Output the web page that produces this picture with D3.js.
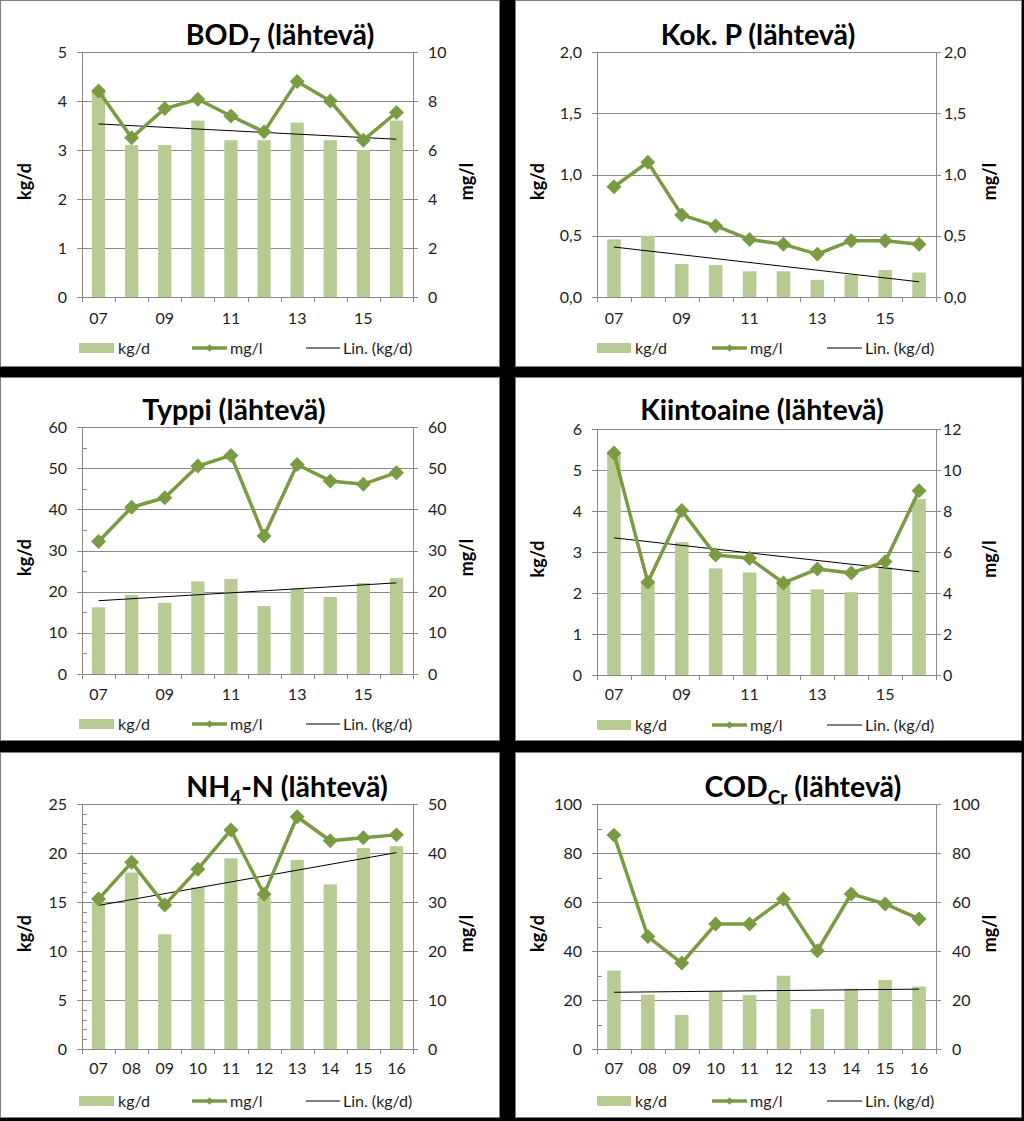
<!DOCTYPE html>
<html><head><meta charset="utf-8">
<script src="https://cdn.jsdelivr.net/npm/d3@7"></script>
<style>
html,body{margin:0;padding:0;background:#000;}
svg{display:block;font-family:Lato,"Carlito",sans-serif;}
</style></head><body>
<svg id="c" width="1024" height="1121"></svg>
<script>
// ---------- data ----------
const years = ["07","08","09","10","11","12","13","14","15","16"];

const bodKg = [4.2,3.1,3.1,3.6,3.2,3.2,3.56,3.2,3.0,3.6];
const bodMg = [8.41,6.5,7.69,8.07,7.39,6.74,8.8,8.0,6.4,7.53];

const pKg = [0.47,0.5,0.27,0.26,0.21,0.21,0.14,0.18,0.22,0.2];
const pMg = [0.9,1.1,0.67,0.58,0.47,0.43,0.35,0.46,0.46,0.43];

const nKg = [16.2,19.2,17.3,22.5,23.1,16.5,20.8,18.7,22.1,23.3];
const nMg = [32.2,40.5,42.8,50.5,53.1,33.5,50.9,46.9,46.1,48.9];

const ssKg = [5.4,2.25,3.24,2.6,2.5,2.3,2.09,2.02,2.63,4.29];
const ssMg = [10.83,4.52,8.02,5.85,5.69,4.49,5.17,4.98,5.53,8.99];

const nh4Kg = [15,18,11.7,16.5,19.46,15.5,19.3,16.8,20.5,20.7];
const nh4Mg = [30.6,38.1,29.4,36.7,44.7,31.6,47.4,42.5,43.1,43.7];

const codKg = [32,22.2,13.9,23.4,22,29.9,16.3,24.6,28.2,25.5];
const codMg = [87.3,45.9,35.1,51,51,61.2,40.1,63.3,59.2,53.1];

// tick values
const bodLeftTicks = [0,1,2,3,4,5];
const bodRightTicks = [0,2,4,6,8,10];
const pTicks = [0,0.5,1.0,1.5,2.0];
const nTicks = [0,10,20,30,40,50,60];
const ssLeftTicks = [0,1,2,3,4,5,6];
const ssRightTicks = [0,2,4,6,8,10,12];
const nh4LeftTicks = [0,5,10,15,20,25];
const nh4RightTicks = [0,10,20,30,40,50];
const codTicks = [0,20,40,60,80,100];

const legendLabels = ["kg/d","mg/l","Lin. (kg/d)"];
const leftAxisTitle = "kg/d";
const rightAxisTitle = "mg/l";

// ---------- style ----------
const BAR = "#B7CB93";
const LINE = "#7A9B42";
const GRID = "#8A8A8A";
const TXT = "#1e1e1e";
const TICKFS = 16;

const svg = d3.select("#c");

const comma = d => d3.format(".1f")(d).replace(".", ",");
const plain = d => String(d);

const panels = [
  {box:[0,0,500,367], l:82, r:413, t:52, b:297, title:[["BOD",0],["7",1],[" (lähtevä)",0]], tx:280, ty:45,
   kg:bodKg, mg:bodMg, lt:bodLeftTicks, rt:bodRightTicks, fmt:plain, all:false, minor:null, rPad:10, xly:324, legY:343, col:0},
  {box:[515,0,507,367], l:597, r:936, t:52, b:297, title:[["Kok. P (lähtevä)",0]], tx:758, ty:45,
   kg:pKg, mg:pMg, lt:pTicks, rt:pTicks, fmt:comma, all:false, minor:null, rPad:3, xly:324, legY:343, col:1},
  {box:[0,377,500,364], l:82, r:413, t:427, b:674, title:[["Typpi (lähtevä)",0]], tx:234, ty:420,
   kg:nKg, mg:nMg, lt:nTicks, rt:nTicks, fmt:plain, all:false, minor:5, rPad:10, xly:700, legY:719, col:0},
  {box:[515,377,507,364], l:597, r:936, t:429, b:675, title:[["Kiintoaine (lähtevä)",0]], tx:762, ty:420,
   kg:ssKg, mg:ssMg, lt:ssLeftTicks, rt:ssRightTicks, fmt:plain, all:false, minor:null, rPad:2, xly:700, legY:720, col:1},
  {box:[0,752,500,366], l:82, r:413, t:804, b:1049, title:[["NH",0],["4",1],["-N (lähtevä)",0]], tx:287, ty:797,
   kg:nh4Kg, mg:nh4Mg, lt:nh4LeftTicks, rt:nh4RightTicks, fmt:plain, all:true, minor:1, rPad:10, xly:1074, legY:1096, col:0},
  {box:[515,752,507,366], l:597, r:936, t:804, b:1049, title:[["COD",0],["Cr",1],[" (lähtevä)",0]], tx:803, ty:797,
   kg:codKg, mg:codMg, lt:codTicks, rt:codTicks, fmt:plain, all:true, minor:10, rPad:11, xly:1074, legY:1096, col:1}
];

const legX = [[79,118,192,230,306,343],[597,635,712,750,827,865]];
const axTitleX = [[25,467],[538,990]];

function regression(vals){
  const n = vals.length;
  const mx = (n-1)/2, my = d3.mean(vals);
  let sxy = 0, sxx = 0;
  vals.forEach((v,i)=>{ sxy += (i-mx)*(v-my); sxx += (i-mx)*(i-mx); });
  const s = sxy/sxx;
  return i => my + s*(i-mx);
}

panels.forEach(p => {
  const g = svg.append("g");
  g.append("rect").attr("x",p.box[0]+0.5).attr("y",p.box[1]+0.5)
    .attr("width",p.box[2]-1).attr("height",p.box[3]-1)
    .attr("fill","#fff").attr("stroke","#7f7f7f").attr("stroke-width",1);

  const x = d3.scaleBand().domain(years).range([p.l,p.r]).paddingInner(0.6).paddingOuter(0.3);
  const xb = d3.scaleLinear().domain([0,years.length]).range([p.l,p.r]);
  const yL = d3.scaleLinear().domain([0,d3.max(p.lt)]).range([p.b,p.t]);
  const yR = d3.scaleLinear().domain([0,d3.max(p.rt)]).range([p.b,p.t]);
  const cx = d => x(d) + x.bandwidth()/2;

  // gridlines
  g.append("g").attr("transform",`translate(${p.l},0)`)
    .call(d3.axisLeft(yL).tickValues(p.lt).tickSize(-(p.r-p.l)).tickFormat(""))
    .call(a=>a.select(".domain").remove())
    .call(a=>a.selectAll("line").attr("stroke",GRID).attr("shape-rendering","crispEdges"));

  // minor ticks (inside, left)
  if (p.minor){
    const mt = d3.range(0, d3.max(p.lt)+1e-9, p.minor).filter(v => !p.lt.some(t=>Math.abs(t-v)<1e-9));
    g.append("g").attr("transform",`translate(${p.l},0)`)
      .call(d3.axisRight(yL).tickValues(mt).tickSize(5).tickFormat(""))
      .call(a=>a.select(".domain").remove())
      .call(a=>a.selectAll("line").attr("stroke",GRID).attr("shape-rendering","crispEdges"));
  }

  // bars
  g.append("g").selectAll("rect").data(years).join("rect")
    .attr("x",d=>x(d)).attr("width",x.bandwidth())
    .attr("y",(d,i)=>yL(p.kg[i])).attr("height",(d,i)=>p.b - yL(p.kg[i]))
    .attr("fill",BAR);

  // left axis
  g.append("g").attr("transform",`translate(${p.l},0)`)
    .call(d3.axisLeft(yL).tickValues(p.lt).tickSize(5).tickSizeOuter(0).tickPadding(10).tickFormat(p.fmt))
    .call(a=>a.selectAll("line,path").attr("stroke",GRID).attr("shape-rendering","crispEdges"))
    .call(a=>a.selectAll("text").attr("font-size",TICKFS).attr("fill",TXT).attr("font-family","Lato"));

  // right axis
  g.append("g").attr("transform",`translate(${p.r},0)`)
    .call(d3.axisRight(yR).tickValues(p.rt).tickSize(5).tickSizeOuter(0).tickPadding(p.rPad).tickFormat(p.fmt))
    .call(a=>a.selectAll("line,path").attr("stroke",GRID).attr("shape-rendering","crispEdges"))
    .call(a=>a.selectAll("text").attr("font-size",TICKFS).attr("fill",TXT).attr("font-family","Lato"));

  // x axis: boundary ticks
  g.append("g").attr("transform",`translate(0,${p.b})`)
    .call(d3.axisBottom(xb).tickValues(d3.range(years.length+1)).tickSize(5).tickSizeOuter(0).tickFormat(""))
    .call(a=>a.selectAll("line,path").attr("stroke",GRID).attr("shape-rendering","crispEdges"));
  // x labels
  g.append("g").selectAll("text").data(years.filter((d,i)=>p.all || i%2===0)).join("text")
    .attr("x",cx).attr("y",p.xly).attr("text-anchor","middle")
    .attr("font-size",TICKFS).attr("fill",TXT).text(d=>d);

  // trend line
  const f = regression(p.kg);
  g.append("line")
    .attr("x1",cx(years[0])).attr("y1",yL(f(0)))
    .attr("x2",cx(years[years.length-1])).attr("y2",yL(f(years.length-1)))
    .attr("stroke","#000").attr("stroke-width",1);

  // mg/l line + markers
  const line = d3.line().x((d,i)=>cx(years[i])).y(d=>yR(d));
  g.append("path").attr("d",line(p.mg)).attr("fill","none")
    .attr("stroke",LINE).attr("stroke-width",3.5).attr("stroke-linejoin","round");
  const sym = d3.symbol(d3.symbolSquare, 112)();
  g.append("g").selectAll("path").data(p.mg).join("path")
    .attr("d",sym).attr("fill",LINE)
    .attr("transform",(d,i)=>`translate(${cx(years[i])},${yR(d)}) rotate(45)`);

  // title
  const t = g.append("text").attr("x",p.tx).attr("y",p.ty).attr("text-anchor","middle")
    .attr("font-size",28.5).attr("font-weight","bold").attr("fill","#000");
  let sub = 0;
  p.title.forEach(([s,isSub])=>{
    const dy = isSub ? 7 : (sub ? -7 : 0);
    t.append("tspan").attr("dy",dy).attr("font-size",isSub?19:28.5).text(s);
    sub = isSub;
  });

  // axis titles
  const ax = axTitleX[p.col];
  const yc = (p.t+p.b)/2 + 7;
  g.append("text").attr("transform",`translate(${ax[0]},${yc}) rotate(-90)`).attr("dy","0.35em")
    .attr("text-anchor","middle").attr("font-size",18).attr("font-weight","bold").attr("fill","#000").text(leftAxisTitle);
  g.append("text").attr("transform",`translate(${ax[1]},${yc}) rotate(-90)`).attr("dy","0.35em")
    .attr("text-anchor","middle").attr("font-size",18).attr("font-weight","bold").attr("fill","#000").text(rightAxisTitle);

  // legend
  const lx = legX[p.col], ly = p.legY;
  g.append("rect").attr("x",lx[0]).attr("y",ly).attr("width",lx[1]-lx[0]-4).attr("height",10).attr("fill",BAR);
  g.append("line").attr("x1",lx[2]).attr("x2",lx[3]-3).attr("y1",ly+5).attr("y2",ly+5).attr("stroke",LINE).attr("stroke-width",3.5);
  g.append("path").attr("d",d3.symbol(d3.symbolSquare,30)()).attr("fill",LINE)
    .attr("transform",`translate(${(lx[2]+lx[3]-3)/2},${ly+5}) rotate(45)`);
  g.append("line").attr("x1",lx[4]).attr("x2",lx[5]-3).attr("y1",ly+5).attr("y2",ly+5).attr("stroke","#000").attr("stroke-width",1);
  [lx[1],lx[3],lx[5]].forEach((xx,i)=>{
    g.append("text").attr("x",xx).attr("y",ly+5).attr("dy","0.35em").attr("font-size",TICKFS)
      .attr("fill",TXT).text(legendLabels[i]);
  });
});
</script>
</body></html>
